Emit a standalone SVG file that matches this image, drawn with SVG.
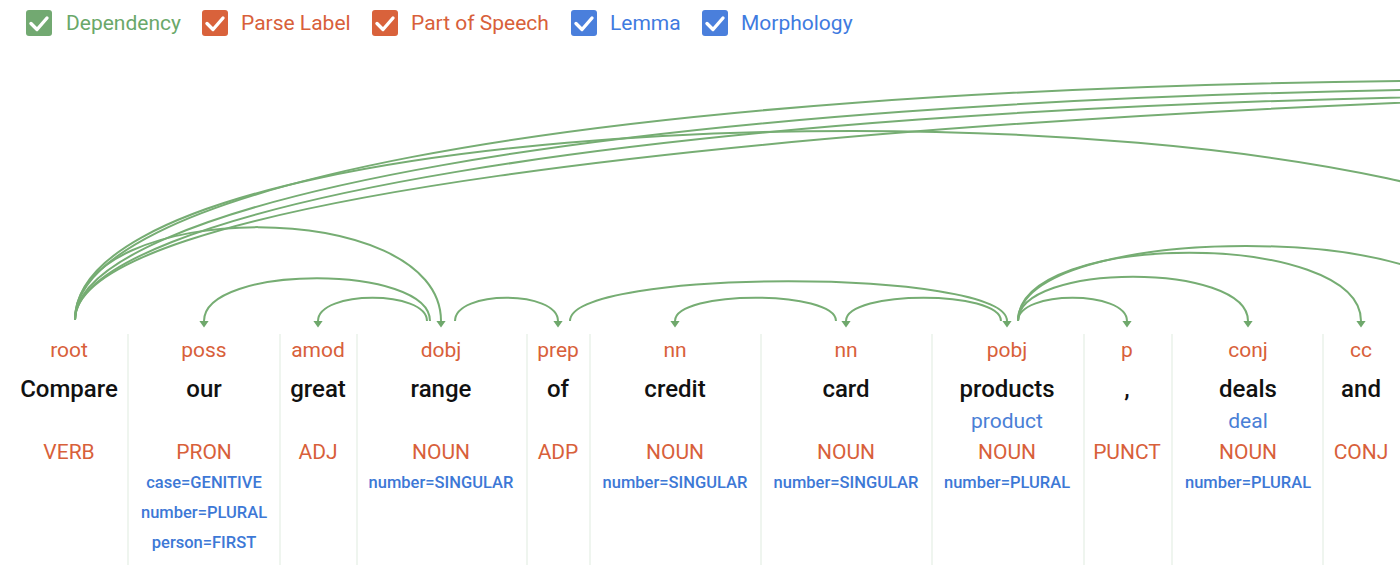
<svg xmlns="http://www.w3.org/2000/svg" width="1400" height="565" viewBox="0 0 1400 565">
<style>
text{font-family:Roboto,"Liberation Sans",Arial,sans-serif;text-anchor:middle}
.leg{font-size:21px;text-anchor:start}
.lbl{font-size:21px;fill:#d8603a}
.word{font-size:24px;fill:#111;font-weight:500}
.lem{font-size:21px;fill:#4a7fd6}
.pos{font-size:21px;fill:#d8603a}
.mor{font-size:16.5px;fill:#3d78d6;font-weight:500}
.arc{fill:none;stroke:#76ad73;stroke-width:2}
.arr{marker-end:url(#ah)}
.sep{stroke:#e4eee4;stroke-width:1.2}
.chk{fill:none;stroke:#fff;stroke-width:3.4;stroke-linecap:round;stroke-linejoin:round}
</style>
<defs>
<marker id="ah" markerUnits="userSpaceOnUse" markerWidth="8" markerHeight="10" viewBox="0 0 8 10" refX="0.5" refY="5" orient="auto">
<path d="M0,0 L7,5 L0,10 z" fill="#6fa86c"/>
</marker>
</defs>
<rect width="1400" height="565" fill="#fff"/>

<g id="legend">
<rect x="26" y="10" width="26" height="26" rx="3" fill="#72a971"/>
<polyline class="chk" points="31,23.5 37,29.5 47,18"/>
<text class="leg" x="66" y="30" fill="#6aa86a">Dependency</text>
<rect x="202" y="10" width="26" height="26" rx="3" fill="#d9623b"/>
<polyline class="chk" points="207,23.5 213,29.5 223,18"/>
<text class="leg" x="241" y="30" fill="#d8603a">Parse Label</text>
<rect x="372" y="10" width="26" height="26" rx="3" fill="#d9623b"/>
<polyline class="chk" points="377,23.5 383,29.5 393,18"/>
<text class="leg" x="411" y="30" fill="#d8603a">Part of Speech</text>
<rect x="571" y="10" width="26" height="26" rx="3" fill="#4a7fdc"/>
<polyline class="chk" points="576,23.5 582,29.5 592,18"/>
<text class="leg" x="610" y="30" fill="#3f7be0">Lemma</text>
<rect x="702" y="10" width="26" height="26" rx="3" fill="#4a7fdc"/>
<polyline class="chk" points="707,23.5 713,29.5 723,18"/>
<text class="leg" x="741" y="30" fill="#3f7be0">Morphology</text>
</g>

<g id="separators">
<line class="sep" x1="128" y1="334" x2="128" y2="565"/>
<line class="sep" x1="280" y1="334" x2="280" y2="565"/>
<line class="sep" x1="357" y1="334" x2="357" y2="565"/>
<line class="sep" x1="527" y1="334" x2="527" y2="565"/>
<line class="sep" x1="590" y1="334" x2="590" y2="565"/>
<line class="sep" x1="761" y1="334" x2="761" y2="565"/>
<line class="sep" x1="932" y1="334" x2="932" y2="565"/>
<line class="sep" x1="1084" y1="334" x2="1084" y2="565"/>
<line class="sep" x1="1172" y1="334" x2="1172" y2="565"/>
<line class="sep" x1="1323" y1="334" x2="1323" y2="565"/>
</g>

<g id="connectors">
<path class="arc" d="M75,320 C75,200 500,85 1500,80"/>
<path class="arc" d="M75,320 C75,210 560,95 1550,88"/>
<path class="arc" d="M75,320 C75,215 600,105 1550,95"/>
<path class="arc" d="M75,320 C75,205 700,125 1600,95"/>
<path class="arc" d="M75,320 C75,68 1630,68 1630,320"/>
<path class="arc arr" d="M75,320 C75,196 441,196 441,321"/>
<path class="arc arr" d="M430,321 C430,264 204,264 204,321"/>
<path class="arc arr" d="M427,321 C427,290 318,290 318,321"/>
<path class="arc arr" d="M455,321 C455,290 558,290 558,321"/>
<path class="arc arr" d="M570,321 C570,268 1007,268 1007,321"/>
<path class="arc arr" d="M836,321 C836,290 675,290 675,321"/>
<path class="arc arr" d="M1001,321 C1001,290 846,290 846,321"/>
<path class="arc arr" d="M1018,321 C1018,290 1127,290 1127,321"/>
<path class="arc arr" d="M1018,321 C1018,262 1248,262 1248,321"/>
<path class="arc arr" d="M1018,321 C1018,230 1361,230 1361,321"/>
<path class="arc arr" d="M1018,321 C1018,221 1474,221 1474,321"/>
</g>

<g id="tok-compare">
<text class="lbl" x="69" y="357">root</text>
<text class="word" x="69" y="397">Compare</text>
<text class="pos" x="69" y="459">VERB</text>
</g>
<g id="tok-our">
<text class="lbl" x="204" y="357">poss</text>
<text class="word" x="204" y="397">our</text>
<text class="pos" x="204" y="459">PRON</text>
<text class="mor" x="204" y="488">case=GENITIVE</text>
<text class="mor" x="204" y="518">number=PLURAL</text>
<text class="mor" x="204" y="548">person=FIRST</text>
</g>
<g id="tok-great">
<text class="lbl" x="318" y="357">amod</text>
<text class="word" x="318" y="397">great</text>
<text class="pos" x="318" y="459">ADJ</text>
</g>
<g id="tok-range">
<text class="lbl" x="441" y="357">dobj</text>
<text class="word" x="441" y="397">range</text>
<text class="pos" x="441" y="459">NOUN</text>
<text class="mor" x="441" y="488">number=SINGULAR</text>
</g>
<g id="tok-of">
<text class="lbl" x="558" y="357">prep</text>
<text class="word" x="558" y="397">of</text>
<text class="pos" x="558" y="459">ADP</text>
</g>
<g id="tok-credit">
<text class="lbl" x="675" y="357">nn</text>
<text class="word" x="675" y="397">credit</text>
<text class="pos" x="675" y="459">NOUN</text>
<text class="mor" x="675" y="488">number=SINGULAR</text>
</g>
<g id="tok-card">
<text class="lbl" x="846" y="357">nn</text>
<text class="word" x="846" y="397">card</text>
<text class="pos" x="846" y="459">NOUN</text>
<text class="mor" x="846" y="488">number=SINGULAR</text>
</g>
<g id="tok-products">
<text class="lbl" x="1007" y="357">pobj</text>
<text class="word" x="1007" y="397">products</text>
<text class="lem" x="1007" y="428">product</text>
<text class="pos" x="1007" y="459">NOUN</text>
<text class="mor" x="1007" y="488">number=PLURAL</text>
</g>
<g id="tok-comma">
<text class="lbl" x="1127" y="357">p</text>
<text class="word" x="1127" y="397">,</text>
<text class="pos" x="1127" y="459">PUNCT</text>
</g>
<g id="tok-deals">
<text class="lbl" x="1248" y="357">conj</text>
<text class="word" x="1248" y="397">deals</text>
<text class="lem" x="1248" y="428">deal</text>
<text class="pos" x="1248" y="459">NOUN</text>
<text class="mor" x="1248" y="488">number=PLURAL</text>
</g>
<g id="tok-and">
<text class="lbl" x="1361" y="357">cc</text>
<text class="word" x="1361" y="397">and</text>
<text class="pos" x="1361" y="459">CONJ</text>
</g>
</svg>
